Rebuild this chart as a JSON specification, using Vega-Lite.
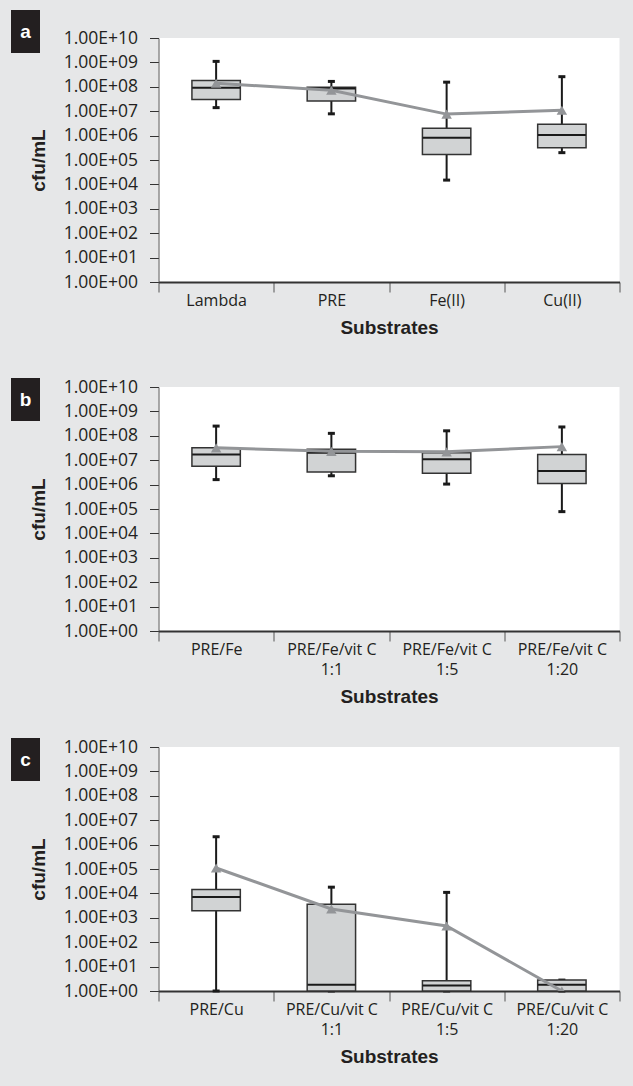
{
  "$schema": "https://vega.github.io/schema/vega-lite/v6.json",
  "background": "#e6e7e8",
  "padding": {"left": 11, "top": 10, "right": 15, "bottom": 24},
  "spacing": 32,
  "config": {
    "font": "Open Sans",
    "view": {"stroke": null, "fill": "white"},
    "axisY": {
      "values": [1, 10, 100, 1000, 10000, 100000, 1000000, 10000000, 100000000, 1000000000, 10000000000],
      "labelExpr": "'1.00E+' + (round(log(datum.value)/LN10) < 10 ? '0' : '') + round(log(datum.value)/LN10)",
      "tickSize": 9, "tickColor": "#333333", "tickWidth": 1,
      "domainColor": "#555555", "domainWidth": 1,
      "labelFont": "Open Sans", "labelFontSize": 17.5, "labelColor": "#231f20", "labelPadding": 12,
      "labelOverlap": false, "labelBound": false, "labelFlush": false,
      "titleFont": "Liberation Sans", "titleFontWeight": "bold", "titleFontSize": 19, "titleColor": "#231f20", "titlePadding": 14.8,
      "grid": false
    },
    "axisX": {
      "tickBand": "extent", "tickSize": 10, "tickColor": "#555555", "tickWidth": 1,
      "domainColor": "#333333", "domainWidth": 2,
      "labelAngle": 0, "labelFont": "Open Sans", "labelFontSize": 16, "labelColor": "#231f20", "labelPadding": 0, "labelLineHeight": 20,
      "labelExpr": "indexof(datum.label, ' 1:') > 0 ? [substring(datum.label, 0, indexof(datum.label, ' 1:')), substring(datum.label, indexof(datum.label, ' 1:') + 1)] : datum.label",
      "titleFont": "Liberation Sans", "titleFontWeight": "bold", "titleFontSize": 19, "titleColor": "#231f20", "titlePadding": 10,
      "grid": false, "zindex": 1
    },
    "tick": {"orient": "horizontal"}
  },
  "datasets": {
    "a": [
      {"substrate": "Lambda", "min": 14000000, "q1": 30000000, "median": 91000000, "q3": 180000000, "max": 1100000000, "mean": 140000000},
      {"substrate": "PRE", "min": 7800000, "q1": 26000000, "median": 85000000, "q3": 95000000, "max": 166000000, "mean": 72000000},
      {"substrate": "Fe(II)", "min": 15000, "q1": 170000, "median": 810000, "q3": 2000000, "max": 155000000, "mean": 7600000},
      {"substrate": "Cu(II)", "min": 200000, "q1": 320000, "median": 1050000, "q3": 2900000, "max": 260000000, "mean": 11000000}
    ],
    "b": [
      {"substrate": "PRE/Fe", "min": 1600000, "q1": 5600000, "median": 17000000, "q3": 32000000, "max": 250000000, "mean": 32000000},
      {"substrate": "PRE/Fe/vit C 1:1", "min": 2300000, "q1": 3300000, "median": 20000000, "q3": 28000000, "max": 126000000, "mean": 23000000},
      {"substrate": "PRE/Fe/vit C 1:5", "min": 1050000, "q1": 2900000, "median": 11000000, "q3": 20000000, "max": 160000000, "mean": 22000000},
      {"substrate": "PRE/Fe/vit C 1:20", "min": 78000, "q1": 1100000, "median": 3600000, "q3": 17000000, "max": 230000000, "mean": 36000000}
    ],
    "c": [
      {"substrate": "PRE/Cu", "min": 1, "q1": 1950, "median": 7100, "q3": 14500, "max": 2100000, "mean": 110000},
      {"substrate": "PRE/Cu/vit C 1:1", "min": 1, "q1": 1, "median": 1.8, "q3": 3600, "max": 18000, "mean": 2300},
      {"substrate": "PRE/Cu/vit C 1:5", "min": 1, "q1": 1, "median": 1.7, "q3": 2.6, "max": 11000, "mean": 460},
      {"substrate": "PRE/Cu/vit C 1:20", "min": 1, "q1": 1, "median": 1.8, "q3": 2.8, "max": 2.8, "mean": 1}
    ],
    "labels": [{"panel": "a"}, {"panel": "b"}, {"panel": "c"}]
  },
  "vconcat": [
    {
      "spacing": -11.5,
      "hconcat": [
        {
          "width": 29, "height": 43,
          "view": {"fill": "#231f20", "stroke": null},
          "data": {"name": "labels"},
          "transform": [{"filter": "datum.panel === 'a'"}],
          "mark": {"type": "text", "color": "white", "fontSize": 19, "fontWeight": "bold", "font": "Liberation Sans"},
          "encoding": {"text": {"field": "panel"}}
        },
        {
          "spacing": -1,
          "vconcat": [
            {
              "width": 1, "height": 1,
              "view": {"fill": null, "stroke": null},
              "data": {"name": "labels"},
              "transform": [{"filter": "datum.panel === 'a'"}],
              "mark": {"type": "text", "opacity": 0, "fontSize": 0},
              "encoding": {"text": {"value": ""}}
            },
            {
              "width": 461, "height": 244,
              "title": {"text": " ", "fontSize": 16, "offset": 3},
              "data": {"name": "a"},
              "encoding": {
                "x": {"field": "substrate", "type": "nominal", "sort": null, "scale": {"type": "band", "paddingInner": 0, "paddingOuter": 0}, "axis": {"title": ["Substrates", " "], "titleLineHeight": 8.2}}
              },
              "layer": [
                {"mark": {"type": "rule", "color": "#1a1a1a", "strokeWidth": 2}, "encoding": {"y": {"field": "max", "type": "quantitative", "title": "cfu/mL", "scale": {"type": "log", "domain": [1, 10000000000], "nice": false}}, "y2": {"field": "min"}}},
                {"mark": {"type": "tick", "color": "#1a1a1a", "size": 7, "thickness": 3, "opacity": 1}, "encoding": {"y": {"field": "max", "type": "quantitative", "title": "cfu/mL"}}},
                {"mark": {"type": "tick", "color": "#1a1a1a", "size": 7, "thickness": 3, "opacity": 1}, "encoding": {"y": {"field": "min", "type": "quantitative", "title": "cfu/mL"}}},
                {"mark": {"type": "bar", "width": {"band": 0.42}, "fill": "#d1d3d4", "stroke": "#333333", "strokeWidth": 1.5}, "encoding": {"y": {"field": "q3", "type": "quantitative", "title": "cfu/mL"}, "y2": {"field": "q1"}}},
                {"mark": {"type": "tick", "color": "#1a1a1a", "size": 48, "thickness": 2, "opacity": 1}, "encoding": {"y": {"field": "median", "type": "quantitative", "title": "cfu/mL"}}},
                {"mark": {"type": "line", "color": "#939598", "strokeWidth": 3, "clip": true}, "encoding": {"y": {"field": "mean", "type": "quantitative", "title": "cfu/mL"}}},
                {"mark": {"type": "point", "shape": "triangle-up", "filled": true, "size": 110, "color": "#939598", "opacity": 1, "clip": true}, "encoding": {"y": {"field": "mean", "type": "quantitative", "title": "cfu/mL"}}}
              ]
            }
          ]
        }
      ]
    },
    {
      "spacing": -11.5,
      "hconcat": [
        {
          "width": 29, "height": 43,
          "view": {"fill": "#231f20", "stroke": null},
          "data": {"name": "labels"},
          "transform": [{"filter": "datum.panel === 'b'"}],
          "mark": {"type": "text", "color": "white", "fontSize": 19, "fontWeight": "bold", "font": "Liberation Sans"},
          "encoding": {"text": {"field": "panel"}}
        },
        {
          "spacing": -1,
          "vconcat": [
            {
              "width": 1, "height": 1,
              "view": {"fill": null, "stroke": null},
              "data": {"name": "labels"},
              "transform": [{"filter": "datum.panel === 'b'"}],
              "mark": {"type": "text", "opacity": 0, "fontSize": 0},
              "encoding": {"text": {"value": ""}}
            },
            {
              "width": 461, "height": 244,
              "data": {"name": "b"},
              "encoding": {
                "x": {"field": "substrate", "type": "nominal", "sort": null, "scale": {"type": "band", "paddingInner": 0, "paddingOuter": 0}, "axis": {"title": "Substrates"}}
              },
              "layer": [
                {"mark": {"type": "rule", "color": "#1a1a1a", "strokeWidth": 2}, "encoding": {"y": {"field": "max", "type": "quantitative", "title": "cfu/mL", "scale": {"type": "log", "domain": [1, 10000000000], "nice": false}}, "y2": {"field": "min"}}},
                {"mark": {"type": "tick", "color": "#1a1a1a", "size": 7, "thickness": 3, "opacity": 1}, "encoding": {"y": {"field": "max", "type": "quantitative", "title": "cfu/mL"}}},
                {"mark": {"type": "tick", "color": "#1a1a1a", "size": 7, "thickness": 3, "opacity": 1}, "encoding": {"y": {"field": "min", "type": "quantitative", "title": "cfu/mL"}}},
                {"mark": {"type": "bar", "width": {"band": 0.42}, "fill": "#d1d3d4", "stroke": "#333333", "strokeWidth": 1.5}, "encoding": {"y": {"field": "q3", "type": "quantitative", "title": "cfu/mL"}, "y2": {"field": "q1"}}},
                {"mark": {"type": "tick", "color": "#1a1a1a", "size": 48, "thickness": 2, "opacity": 1}, "encoding": {"y": {"field": "median", "type": "quantitative", "title": "cfu/mL"}}},
                {"mark": {"type": "line", "color": "#939598", "strokeWidth": 3, "clip": true}, "encoding": {"y": {"field": "mean", "type": "quantitative", "title": "cfu/mL"}}},
                {"mark": {"type": "point", "shape": "triangle-up", "filled": true, "size": 110, "color": "#939598", "opacity": 1, "clip": true}, "encoding": {"y": {"field": "mean", "type": "quantitative", "title": "cfu/mL"}}}
              ]
            }
          ]
        }
      ]
    },
    {
      "spacing": -11.5,
      "hconcat": [
        {
          "width": 29, "height": 43,
          "view": {"fill": "#231f20", "stroke": null},
          "data": {"name": "labels"},
          "transform": [{"filter": "datum.panel === 'c'"}],
          "mark": {"type": "text", "color": "white", "fontSize": 19, "fontWeight": "bold", "font": "Liberation Sans"},
          "encoding": {"text": {"field": "panel"}}
        },
        {
          "spacing": -1,
          "vconcat": [
            {
              "width": 1, "height": 1,
              "view": {"fill": null, "stroke": null},
              "data": {"name": "labels"},
              "transform": [{"filter": "datum.panel === 'c'"}],
              "mark": {"type": "text", "opacity": 0, "fontSize": 0},
              "encoding": {"text": {"value": ""}}
            },
            {
              "width": 461, "height": 244,
              "data": {"name": "c"},
              "encoding": {
                "x": {"field": "substrate", "type": "nominal", "sort": null, "scale": {"type": "band", "paddingInner": 0, "paddingOuter": 0}, "axis": {"title": "Substrates"}}
              },
              "layer": [
                {"mark": {"type": "rule", "color": "#1a1a1a", "strokeWidth": 2}, "encoding": {"y": {"field": "max", "type": "quantitative", "title": "cfu/mL", "scale": {"type": "log", "domain": [1, 10000000000], "nice": false}}, "y2": {"field": "min"}}},
                {"mark": {"type": "tick", "color": "#1a1a1a", "size": 7, "thickness": 3, "opacity": 1}, "encoding": {"y": {"field": "max", "type": "quantitative", "title": "cfu/mL"}}},
                {"mark": {"type": "tick", "color": "#1a1a1a", "size": 7, "thickness": 3, "opacity": 1}, "encoding": {"y": {"field": "min", "type": "quantitative", "title": "cfu/mL"}}},
                {"mark": {"type": "bar", "width": {"band": 0.42}, "fill": "#d1d3d4", "stroke": "#333333", "strokeWidth": 1.5}, "encoding": {"y": {"field": "q3", "type": "quantitative", "title": "cfu/mL"}, "y2": {"field": "q1"}}},
                {"mark": {"type": "tick", "color": "#1a1a1a", "size": 48, "thickness": 2, "opacity": 1}, "encoding": {"y": {"field": "median", "type": "quantitative", "title": "cfu/mL"}}},
                {"mark": {"type": "line", "color": "#939598", "strokeWidth": 3, "clip": true}, "encoding": {"y": {"field": "mean", "type": "quantitative", "title": "cfu/mL"}}},
                {"mark": {"type": "point", "shape": "triangle-up", "filled": true, "size": 110, "color": "#939598", "opacity": 1, "clip": true}, "encoding": {"y": {"field": "mean", "type": "quantitative", "title": "cfu/mL"}}}
              ]
            }
          ]
        }
      ]
    }
  ]
}
